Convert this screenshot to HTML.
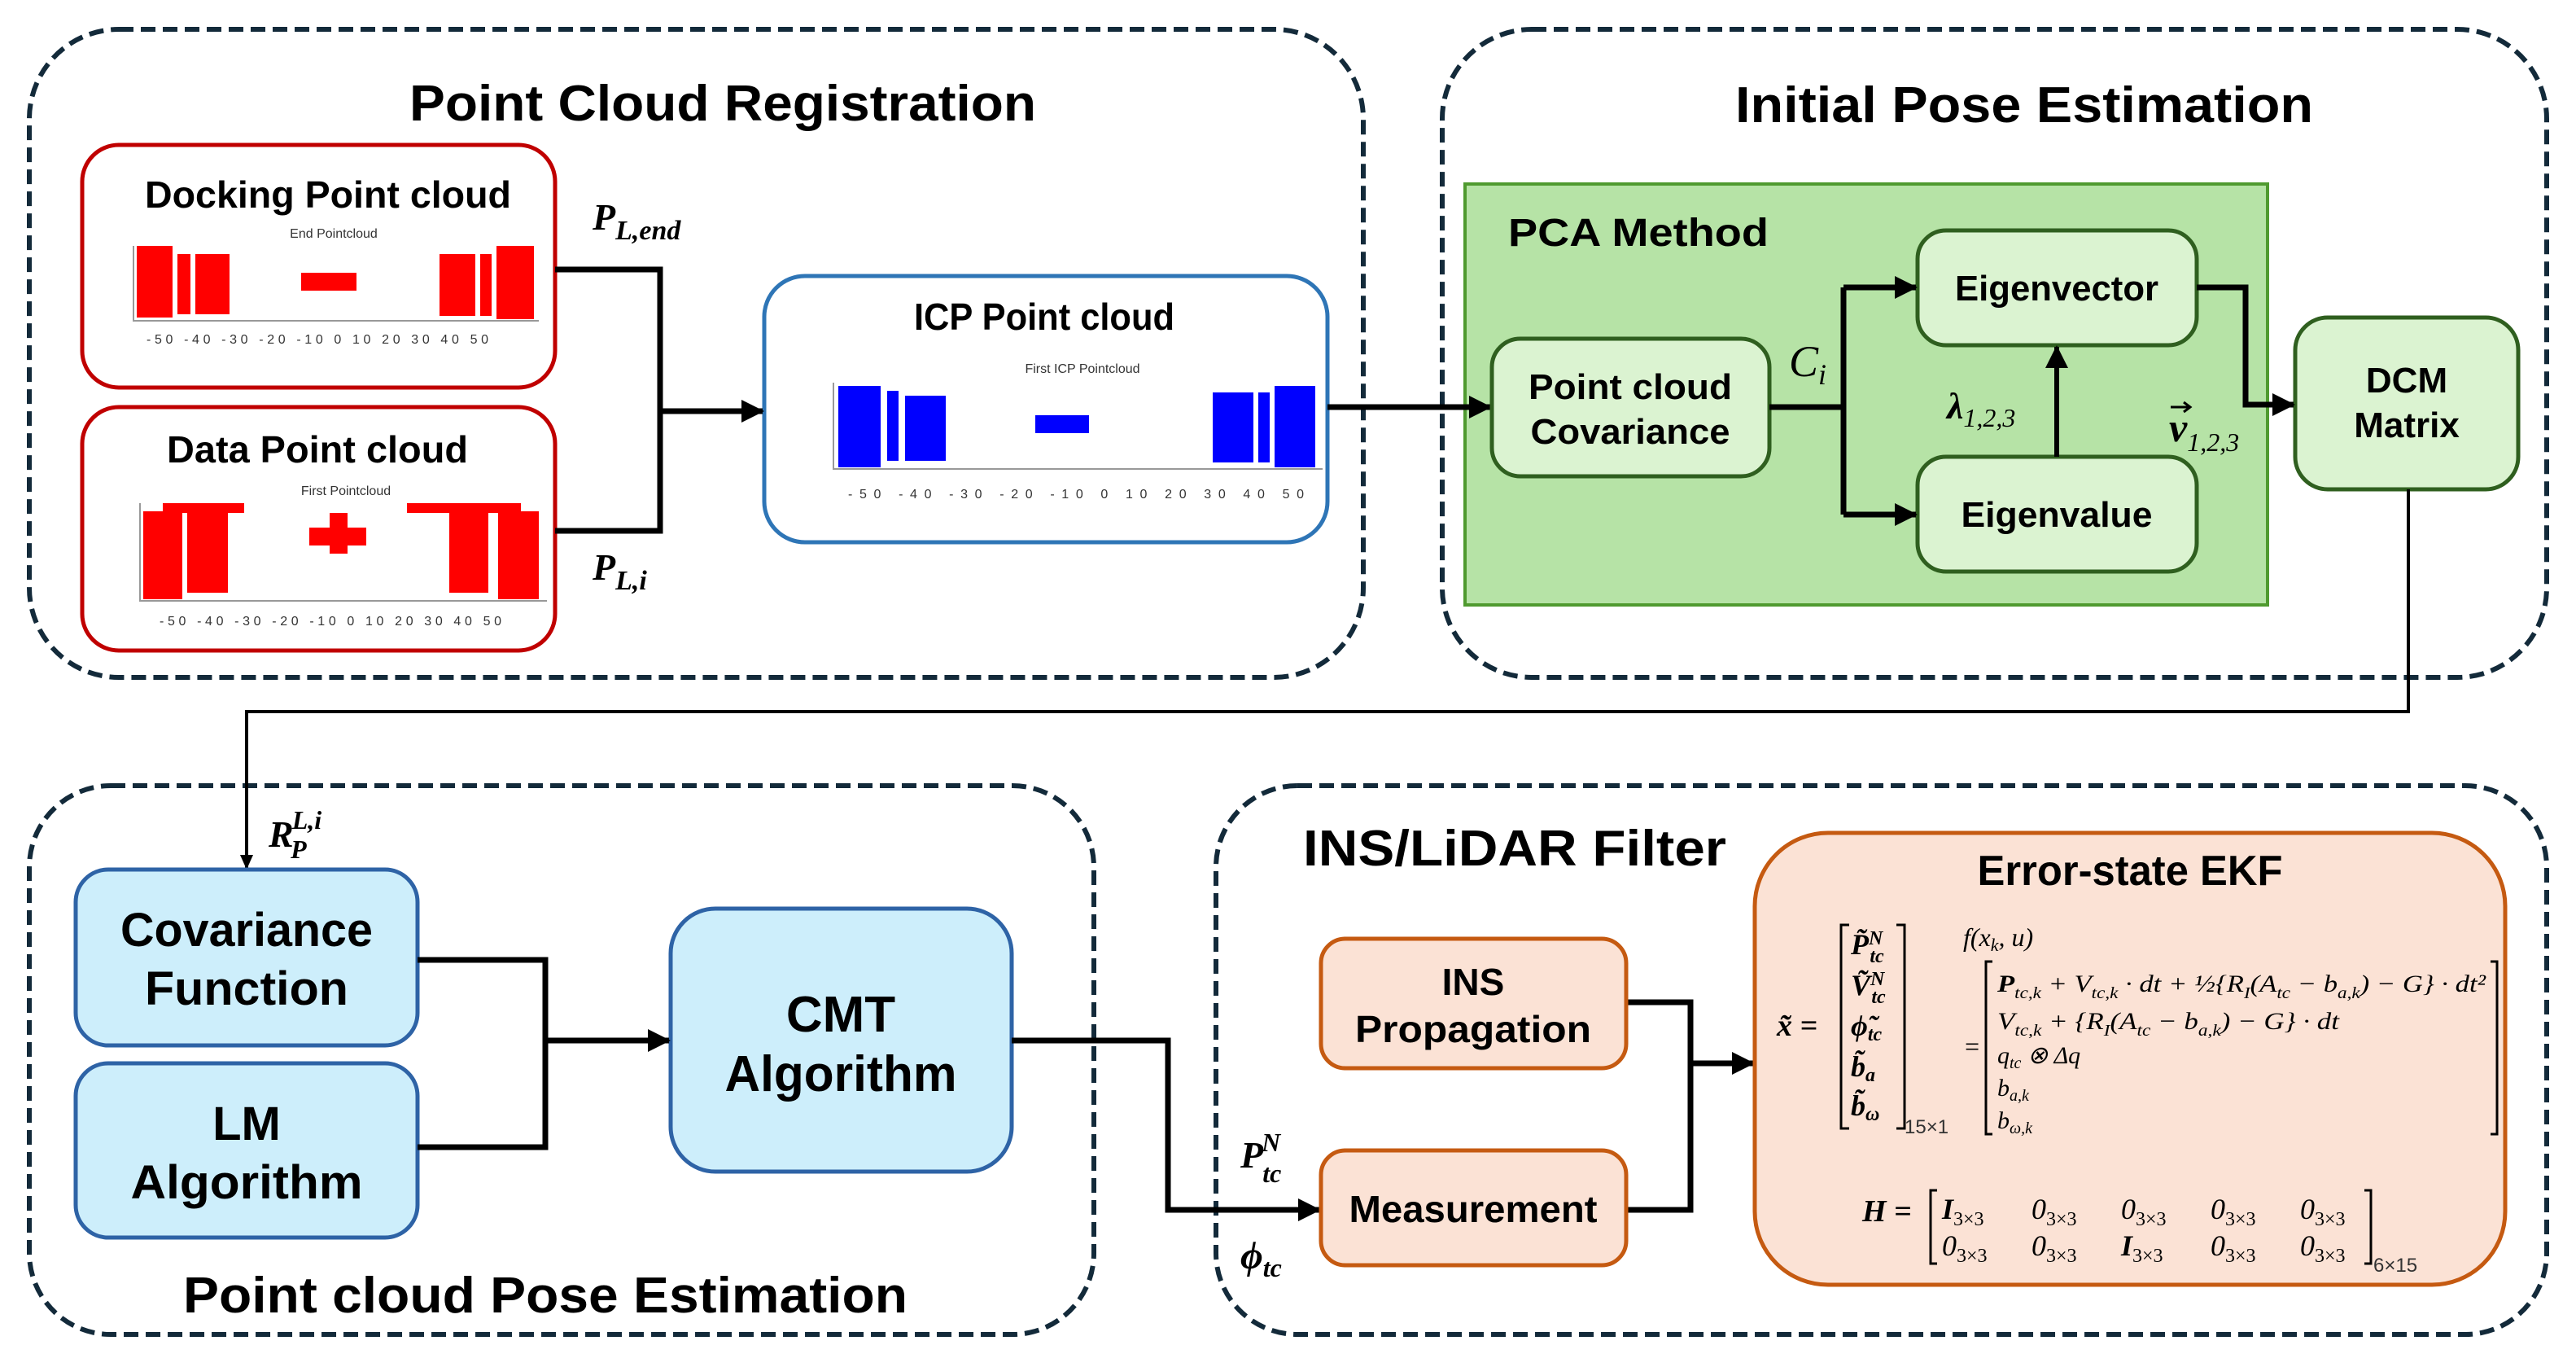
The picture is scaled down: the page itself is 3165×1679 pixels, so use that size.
<!DOCTYPE html>
<html><head><meta charset="utf-8"><style>
html,body{margin:0;padding:0;background:#fff}
svg{display:block}
.t{font-family:"Liberation Sans Narrow","Liberation Sans",sans-serif;font-weight:bold;fill:#000}
.m{font-family:"Liberation Serif",serif;font-style:italic;font-weight:bold;fill:#000}
.mr{font-family:"Liberation Serif",serif;font-style:italic;fill:#000}
.s{font-family:"Liberation Sans",sans-serif;fill:#333}
</style></head><body>
<svg width="3165" height="1679" viewBox="0 0 3165 1679" xmlns="http://www.w3.org/2000/svg">
<defs>
<marker id="a" markerWidth="28" markerHeight="30" refX="26" refY="15" orient="auto" markerUnits="userSpaceOnUse"><path d="M0,1 L28,15 L0,29 z" fill="#000"/></marker>
<marker id="b" markerWidth="18" markerHeight="18" refX="16" refY="9" orient="auto" markerUnits="userSpaceOnUse"><path d="M0,1 L18,9 L0,17 z" fill="#000"/></marker>
</defs>
<g fill="none" stroke="#132a3a" stroke-width="6" stroke-dasharray="18,9">
<rect x="36" y="36" width="1639" height="796" rx="110"/>
<rect x="1772" y="36" width="1357" height="796" rx="110"/>
<rect x="36" y="965" width="1308" height="674" rx="100"/>
<rect x="1494" y="965" width="1635" height="674" rx="100"/>
</g>
<text class="t" x="888" y="148" font-size="62" text-anchor="middle" textLength="770" lengthAdjust="spacingAndGlyphs">Point Cloud Registration</text>
<text class="t" x="2487" y="150" font-size="62" text-anchor="middle" textLength="710" lengthAdjust="spacingAndGlyphs">Initial Pose Estimation</text>
<text class="t" x="670" y="1612" font-size="62" text-anchor="middle" textLength="890" lengthAdjust="spacingAndGlyphs">Point cloud Pose Estimation</text>
<text class="t" x="1861" y="1063" font-size="62" text-anchor="middle" textLength="520" lengthAdjust="spacingAndGlyphs">INS/LiDAR Filter</text>

<rect x="101" y="178" width="581" height="298" rx="45" fill="#fff" stroke="#c00000" stroke-width="5"/>
<rect x="101" y="500" width="581" height="299" rx="45" fill="#fff" stroke="#c00000" stroke-width="5"/>
<text class="t" x="403" y="255" font-size="46" text-anchor="middle" textLength="450" lengthAdjust="spacingAndGlyphs">Docking Point cloud</text>
<text class="t" x="390" y="568" font-size="46" text-anchor="middle" textLength="370" lengthAdjust="spacingAndGlyphs">Data Point cloud</text>
<text class="s" x="410" y="292" font-size="16" text-anchor="middle">End Pointcloud</text>
<text class="s" x="425" y="608" font-size="16" text-anchor="middle">First Pointcloud</text>
<g fill="#ff0000">
<rect x="168" y="302" width="44" height="88"/><rect x="218" y="312" width="16" height="74"/><rect x="240" y="312" width="42" height="74"/>
<rect x="370" y="335" width="68" height="22"/>
<rect x="540" y="312" width="44" height="76"/><rect x="590" y="312" width="14" height="76"/><rect x="610" y="302" width="46" height="90"/>
<rect x="176" y="628" width="48" height="108"/><rect x="230" y="628" width="50" height="100"/>
<rect x="200" y="618" width="100" height="12"/>
<rect x="380" y="648" width="70" height="22"/><rect x="405" y="630" width="22" height="50"/>
<rect x="552" y="626" width="48" height="102"/><rect x="612" y="628" width="50" height="108"/>
<rect x="500" y="618" width="140" height="12"/>
</g>
<g stroke="#999" stroke-width="2" fill="none">
<path d="M164,302 V394 H662"/><path d="M172,618 V738 H672"/>
</g>
<text class="s" x="180" y="422" font-size="16" textLength="420" lengthAdjust="spacing">-50 -40 -30 -20 -10 0 10 20 30 40 50</text>
<text class="s" x="196" y="768" font-size="16" textLength="420" lengthAdjust="spacing">-50 -40 -30 -20 -10 0 10 20 30 40 50</text>

<rect x="939" y="339" width="692" height="327" rx="50" fill="#fff" stroke="#2e75b6" stroke-width="5"/>
<text class="t" x="1283" y="405" font-size="46" text-anchor="middle" textLength="320" lengthAdjust="spacingAndGlyphs">ICP Point cloud</text>
<text class="s" x="1330" y="458" font-size="16" text-anchor="middle">First ICP Pointcloud</text>
<g fill="#0000ff">
<rect x="1030" y="474" width="52" height="100"/><rect x="1090" y="480" width="14" height="86"/><rect x="1112" y="486" width="50" height="80"/>
<rect x="1272" y="510" width="66" height="22"/>
<rect x="1490" y="482" width="50" height="86"/><rect x="1546" y="482" width="14" height="86"/><rect x="1566" y="474" width="50" height="100"/>
</g>
<path d="M1024,470 V576 H1625" stroke="#999" stroke-width="2" fill="none"/>
<text class="s" x="1042" y="612" font-size="16" textLength="560" lengthAdjust="spacing">-50 -40 -30 -20 -10 0 10 20 30 40 50</text>

<g fill="none" stroke="#000" stroke-width="7">
<path d="M682,331 H811 V652 H682"/>
<path d="M811,505 H937" marker-end="url(#a)"/>
</g>
<text class="m" x="728" y="282" font-size="46">P<tspan font-size="34" dy="12">L,end</tspan></text>
<text class="m" x="728" y="712" font-size="46">P<tspan font-size="34" dy="12">L,i</tspan></text>

<rect x="1800" y="226" width="986" height="517" fill="#b6e3a6" stroke="#4f9a2f" stroke-width="4"/>
<path d="M1631,500 H1831" fill="none" stroke="#000" stroke-width="7" marker-end="url(#a)"/>
<text class="t" x="1853" y="302" font-size="48" textLength="320" lengthAdjust="spacingAndGlyphs">PCA Method</text>
<g fill="#dbf3d1" stroke="#2f5f1f" stroke-width="5">
<rect x="1833" y="416" width="341" height="169" rx="35"/>
<rect x="2356" y="283" width="343" height="141" rx="35"/>
<rect x="2356" y="561" width="343" height="141" rx="35"/>
<rect x="2820" y="390" width="274" height="211" rx="40"/>
</g>
<text class="t" x="2003" y="490" font-size="44" text-anchor="middle" textLength="250" lengthAdjust="spacingAndGlyphs">Point cloud</text>
<text class="t" x="2003" y="545" font-size="44" text-anchor="middle" textLength="245" lengthAdjust="spacingAndGlyphs">Covariance</text>
<text class="t" x="2527" y="369" font-size="44" text-anchor="middle" textLength="250" lengthAdjust="spacingAndGlyphs">Eigenvector</text>
<text class="t" x="2527" y="647" font-size="44" text-anchor="middle" textLength="235" lengthAdjust="spacingAndGlyphs">Eigenvalue</text>
<text class="t" x="2957" y="482" font-size="44" text-anchor="middle">DCM</text>
<text class="t" x="2957" y="537" font-size="44" text-anchor="middle">Matrix</text>
<g fill="none" stroke="#000" stroke-width="7">
<path d="M2174,500 H2265"/>
<path d="M2265,353 V632"/>
<path d="M2265,353 H2354" marker-end="url(#a)"/>
<path d="M2265,632 H2354" marker-end="url(#a)"/>
<path d="M2527,561 V426" stroke-width="6" marker-end="url(#a)"/>
<path d="M2699,353 H2759 V497 H2818" marker-end="url(#a)"/>
</g>
<text class="mr" x="2198" y="462" font-size="54">C<tspan font-size="36" dy="10">i</tspan></text>
<text class="m" x="2392" y="514" font-size="46">λ<tspan font-size="32" font-weight="normal" dy="10">1,2,3</tspan></text>
<text class="m" x="2665" y="542" font-size="50">v<tspan font-size="32" font-weight="normal" dy="12">1,2,3</tspan></text>
<path d="M2667,500 h24 m-8,-6 l8,6 l-8,6" stroke="#000" stroke-width="3" fill="none"/>

<path d="M2959,601 V874 H303 V1066" fill="none" stroke="#000" stroke-width="4" marker-end="url(#b)"/>
<text class="m" x="330" y="1040" font-size="46">R<tspan font-size="32" dx="-2" dy="-22">L,i</tspan><tspan font-size="32" dx="-38" dy="36">P</tspan></text>

<g fill="#cdeefb" stroke="#2e63a6" stroke-width="5">
<rect x="93" y="1068" width="420" height="216" rx="40"/>
<rect x="93" y="1306" width="420" height="214" rx="40"/>
<rect x="824" y="1116" width="419" height="323" rx="55"/>
</g>
<text class="t" x="303" y="1162" font-size="58" text-anchor="middle" textLength="310" lengthAdjust="spacingAndGlyphs">Covariance</text>
<text class="t" x="303" y="1234" font-size="58" text-anchor="middle" textLength="250" lengthAdjust="spacingAndGlyphs">Function</text>
<text class="t" x="303" y="1400" font-size="58" text-anchor="middle">LM</text>
<text class="t" x="303" y="1472" font-size="58" text-anchor="middle" textLength="285" lengthAdjust="spacingAndGlyphs">Algorithm</text>
<text class="t" x="1033" y="1267" font-size="62" text-anchor="middle">CMT</text>
<text class="t" x="1033" y="1340" font-size="62" text-anchor="middle" textLength="285" lengthAdjust="spacingAndGlyphs">Algorithm</text>
<g fill="none" stroke="#000" stroke-width="7">
<path d="M513,1179 H670 V1409 H513"/>
<path d="M670,1278 H822" marker-end="url(#a)"/>
<path d="M1243,1278 H1435 V1486 H1621" marker-end="url(#a)"/>
<path d="M1998,1231 H2077 V1486 H1998"/>
<path d="M2077,1306 H2154" marker-end="url(#a)"/>
</g>
<text class="m" x="1524" y="1434" font-size="46">P<tspan font-size="32" dx="-2" dy="-20">N</tspan><tspan font-size="32" dx="-22" dy="38">tc</tspan></text>
<text class="m" x="1524" y="1558" font-size="48">ϕ<tspan font-size="32" dy="10">tc</tspan></text>

<g fill="#fbe2d5" stroke="#c55a11" stroke-width="5">
<rect x="1623" y="1153" width="375" height="159" rx="30"/>
<rect x="1623" y="1413" width="375" height="141" rx="30"/>
<rect x="2156" y="1023" width="922" height="555" rx="90"/>
</g>
<text class="t" x="1810" y="1222" font-size="46" text-anchor="middle">INS</text>
<text class="t" x="1810" y="1280" font-size="46" text-anchor="middle" textLength="290" lengthAdjust="spacingAndGlyphs">Propagation</text>
<text class="t" x="1810" y="1501" font-size="46" text-anchor="middle" textLength="305" lengthAdjust="spacingAndGlyphs">Measurement</text>
<text class="t" x="2617" y="1087" font-size="52" text-anchor="middle" textLength="375" lengthAdjust="spacingAndGlyphs">Error-state EKF</text>

<text class="m" x="2183" y="1272" font-size="38">x̃ =</text>
<path d="M2272,1136 h-10 v250 h10 M2330,1136 h10 v250 h-10" stroke="#000" stroke-width="3" fill="none"/>
<g class="m" font-size="36">
<text x="2274" y="1172">P̃<tspan font-size="24" dy="-12">N</tspan><tspan font-size="24" dx="-16" dy="22">tc</tspan></text>
<text x="2274" y="1222">Ṽ<tspan font-size="24" dy="-12">N</tspan><tspan font-size="24" dx="-16" dy="22">tc</tspan></text>
<text x="2274" y="1272">ϕ̃<tspan font-size="24" dy="6">tc</tspan></text>
<text x="2274" y="1322">b̃<tspan font-size="24" dy="6">a</tspan></text>
<text x="2274" y="1370">b̃<tspan font-size="24" dy="6">ω</tspan></text>
</g>
<text class="s" x="2340" y="1392" font-size="24" fill="#000">15×1</text>
<text class="mr" x="2412" y="1162" font-size="32">f(x<tspan font-size="22" dy="6">k</tspan><tspan dy="-6">, u)</tspan></text>
<text class="mr" x="2412" y="1296" font-size="32">=</text>
<path d="M2448,1181 h-8 v212 h8 M3060,1181 h8 v212 h-8" stroke="#000" stroke-width="3" fill="none"/>
<g class="mr" font-size="30">
<text x="2454" y="1218" textLength="600" lengthAdjust="spacingAndGlyphs"><tspan font-weight="bold">P</tspan><tspan font-size="20" dy="8">tc,k</tspan><tspan dy="-8"> + V</tspan><tspan font-size="20" dy="8">tc,k</tspan><tspan dy="-8"> · dt + ½{R</tspan><tspan font-size="20" dy="8">I</tspan><tspan dy="-8">(A</tspan><tspan font-size="20" dy="8">tc</tspan><tspan dy="-8"> − b</tspan><tspan font-size="20" dy="8">a,k</tspan><tspan dy="-8">) − G} · dt²</tspan></text>
<text x="2454" y="1264" textLength="420" lengthAdjust="spacingAndGlyphs">V<tspan font-size="20" dy="8">tc,k</tspan><tspan dy="-8"> + {R</tspan><tspan font-size="20" dy="8">I</tspan><tspan dy="-8">(A</tspan><tspan font-size="20" dy="8">tc</tspan><tspan dy="-8"> − b</tspan><tspan font-size="20" dy="8">a,k</tspan><tspan dy="-8">) − G} · dt</tspan></text>
<text x="2454" y="1306">q<tspan font-size="20" dy="6">tc</tspan><tspan dy="-6"> ⊗ Δq</tspan></text>
<text x="2454" y="1346">b<tspan font-size="20" dy="6">a,k</tspan></text>
<text x="2454" y="1386">b<tspan font-size="20" dy="6">ω,k</tspan></text>
</g>
<text class="m" x="2288" y="1500" font-size="38">H =</text>
<path d="M2380,1462 h-8 v90 h8 M2905,1462 h8 v90 h-8" stroke="#000" stroke-width="3" fill="none"/>
<g class="mr" font-size="36">
<text x="2386" y="1497"><tspan font-weight="bold">I</tspan><tspan font-size="24" font-style="normal" dy="8">3×3</tspan></text>
<text x="2496" y="1497">0<tspan font-size="24" font-style="normal" dy="8">3×3</tspan></text>
<text x="2606" y="1497">0<tspan font-size="24" font-style="normal" dy="8">3×3</tspan></text>
<text x="2716" y="1497">0<tspan font-size="24" font-style="normal" dy="8">3×3</tspan></text>
<text x="2826" y="1497">0<tspan font-size="24" font-style="normal" dy="8">3×3</tspan></text>
<text x="2386" y="1542">0<tspan font-size="24" font-style="normal" dy="8">3×3</tspan></text>
<text x="2496" y="1542">0<tspan font-size="24" font-style="normal" dy="8">3×3</tspan></text>
<text x="2606" y="1542"><tspan font-weight="bold">I</tspan><tspan font-size="24" font-style="normal" dy="8">3×3</tspan></text>
<text x="2716" y="1542">0<tspan font-size="24" font-style="normal" dy="8">3×3</tspan></text>
<text x="2826" y="1542">0<tspan font-size="24" font-style="normal" dy="8">3×3</tspan></text>
</g>
<text class="s" x="2916" y="1562" font-size="24" fill="#000">6×15</text>
</svg>
</body></html>
